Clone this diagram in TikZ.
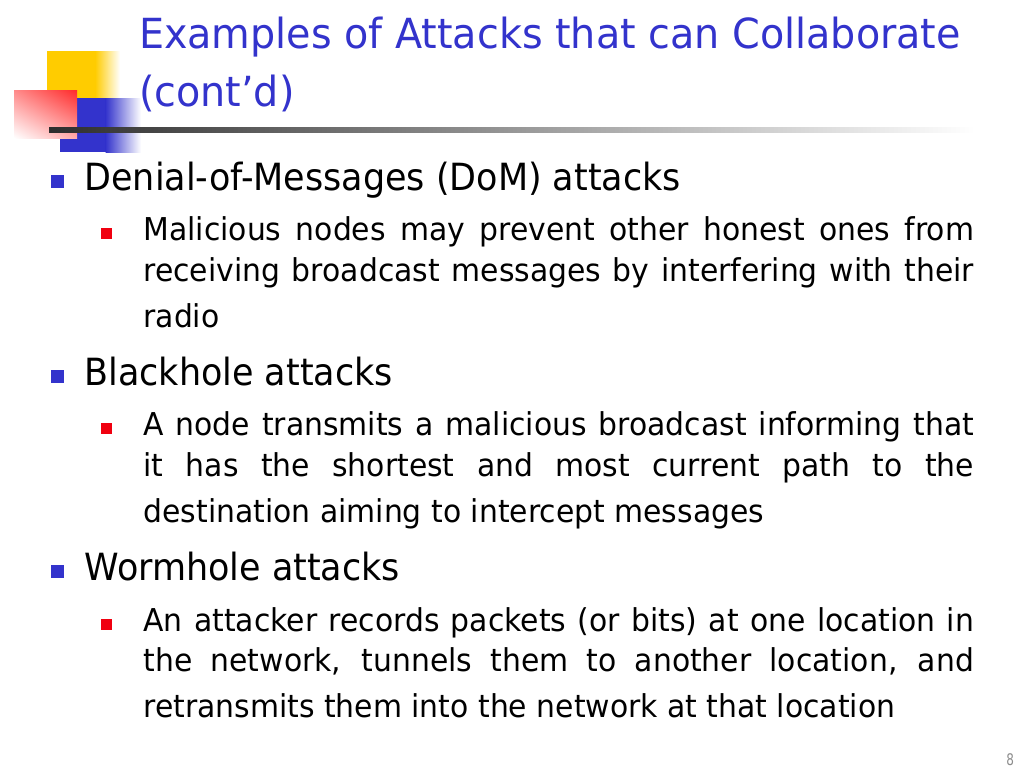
\documentclass[tikz,border=0pt]{standalone}
\usepackage{fontspec}
\usetikzlibrary{shadings}
\setmainfont{DejaVu Sans}
\newfontfamily\ttlfont[FakeStretch=0.957]{DejaVu Sans}
\newfontfamily\lonefont[FakeStretch=0.933]{DejaVu Sans}
\newfontfamily\ltwofont[FakeStretch=0.948]{DejaVu Sans}
\newfontfamily\pgnfont[FakeStretch=0.75]{DejaVu Sans}
\definecolor{ttlblue}{HTML}{3333CC}
\definecolor{logoyellow}{HTML}{FFCC00}
\definecolor{logored}{HTML}{FF2A2A}
\definecolor{bulred}{HTML}{F00010}
\definecolor{pggray}{HTML}{8C8C8C}
\newcommand{\jline}[1]{\makebox[622.9pt][s]{#1}}
\begin{document}
\begin{tikzpicture}[x=0.75pt,y=-0.75pt,
  txt/.style={inner sep=0pt, outer sep=0pt, anchor=base west},
  ttl/.style={txt, text=ttlblue, font=\ttlfont\fontsize{31.1pt}{36pt}\selectfont},
  lone/.style={txt, font=\lonefont\fontsize{28.1pt}{32pt}\selectfont},
  ltwo/.style={txt, font=\ltwofont\fontsize{23.6pt}{28pt}\selectfont},
  bulone/.style={fill=ttlblue, draw=none, minimum size=9.75pt, inner sep=0pt, outer sep=0pt, anchor=center},
  bultwo/.style={fill=bulred, draw=none, minimum size=8.1pt, inner sep=0pt, outer sep=0pt, anchor=center},
  pgnum/.style={inner sep=0pt, outer sep=0pt, anchor=base east, text=pggray, font=\pgnfont\fontsize{12pt}{14pt}\selectfont}]
\useasboundingbox (0,0) rectangle (1024,768);
\fill[white] (0,0) rectangle (1024,768);
% logo
\fill[logoyellow] (47,51) rectangle (95.5,98);
\shade[left color=logoyellow, right color=white] (95,51) rectangle (120,98);
\fill[ttlblue] (60,98) rectangle (106,152);
\shade[left color=ttlblue, right color=white] (105.5,98) rectangle (141,152);
\shade[upper left=logored!55!white, upper right=logored, lower left=white, lower right=logored!40!white] (14,90) rectangle (77,138);
\shade[left color=black!82, middle color=black!38, right color=white] (49,127) rectangle (975,132);
% title
\node[ttl] (t1) at (139,48.5) {Examples of Attacks that can Collaborate};
\node[ttl] (t2) at (139,106) {(cont’d)};
% item 1
\node[bulone] (b1) at (57,181.5) {};
\node[lone] (h1) at (84.5,190) {Denial-of-Messages (DoM) attacks};
\node[bultwo] (r1) at (106.5,233.5) {};
\node[ltwo] (a1) at (143.5,240) {\jline{Malicious nodes may prevent other honest ones from}};
\node[ltwo] (a2) at (143.5,281) {\jline{receiving broadcast messages by interfering with their}};
\node[ltwo] (a3) at (143.5,327) {radio};
% item 2
\node[bulone] (b2) at (57,376.5) {};
\node[lone] (h2) at (84.5,385) {Blackhole attacks};
\node[bultwo] (r2) at (106.5,428.5) {};
\node[ltwo] (c1) at (143.5,435) {\jline{A node transmits a malicious broadcast informing that}};
\node[ltwo] (c2) at (143.5,476) {\jline{it has the shortest and most current path to the}};
\node[ltwo] (c3) at (143.5,522) {destination aiming to intercept messages};
% item 3
\node[bulone] (b3) at (57,571.5) {};
\node[lone] (h3) at (84.5,580) {Wormhole attacks};
\node[bultwo] (r3) at (106.5,624.5) {};
\node[ltwo] (d1) at (143.5,631) {\jline{An attacker records packets (or bits) at one location in}};
\node[ltwo] (d2) at (143.5,671) {\jline{the network, tunnels them to another location, and}};
\node[ltwo] (d3) at (143.5,717) {retransmits them into the network at that location};
% page number
\node[pgnum] (pg) at (1014,765) {8};
\end{tikzpicture}
\end{document}
